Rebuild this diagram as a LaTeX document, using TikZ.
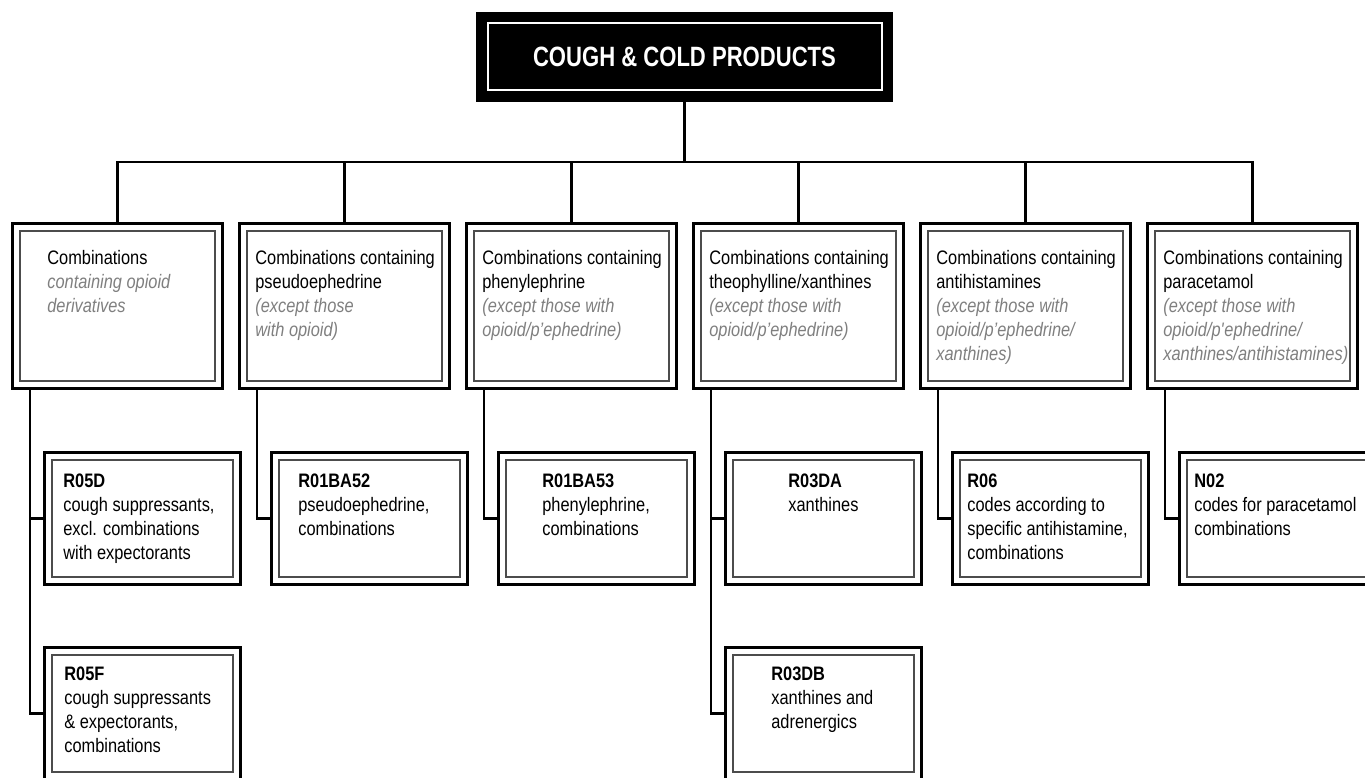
\documentclass[tikz,border=0pt]{standalone}
\usepackage{fontspec}
\setmainfont{Liberation Sans}[FakeStretch=0.84]
\newfontfamily\titlefont{Liberation Sans}[FakeStretch=0.79]
\usepackage{tikz}
\usepackage{color}
\definecolor{notegray}{HTML}{7F7F7F}
\newcommand{\greynote}[1]{{\color{notegray}\itshape #1}}
\tikzset{
	titlebox/.style={fill=black, text=white, outer sep=0pt, minimum width=8.34cm, minimum height=1.8cm, text height=0.4cm, text depth=0pt, font=\titlefont\bfseries\fontsize{15.9}{19}\selectfont},
	catbox/.style={draw, line width=0.06cm, outer sep=0pt, anchor=north west, minimum width=4.2cm, minimum height=3.3cm},
	codebox/.style={catbox, minimum width=3.92cm, minimum height=2.64cm},
	innerline/.style={draw=black!70, line width=0.032cm},
	boxtext/.style={anchor=north west, align=left, inner sep=0pt, font=\fontsize{11.1}{13.66}\selectfont},
	link/.style={line width=0.05cm}
}

\begin{document}
\begin{tikzpicture}
		\useasboundingbox (0,0) rectangle (27.3,-15.56);
		% Boite titre
		\node[titlebox] (title) at (13.69,-1.14) {COUGH \& COLD PRODUCTS};
		\draw[white, line width=0.04cm] ([shift={(0.23,-0.23)}]title.north west) rectangle ([shift={(-0.23,0.23)}]title.south east);
		\coordinate (bus) at (0,-3.24);
		% Categories
		\node[catbox] (c1) at (0.25,-4.47) {};
		\node[catbox] (c2) at (4.79,-4.47) {};
		\node[catbox] (c3) at (9.33,-4.47) {};
		\node[catbox] (c4) at (13.87,-4.47) {};
		\node[catbox] (c5) at (18.41,-4.47) {};
		\node[catbox] (c6) at (22.95,-4.47) {};
		\node[boxtext] (c1txt) at ([shift={(0.69,-0.525)}]c1.north west) {Combinations\\ \greynote{containing opioid}\\ \greynote{derivatives}};
		\node[boxtext] (c2txt) at ([shift={(0.31,-0.525)}]c2.north west) {Combinations containing\\ pseudoephedrine\\ \greynote{(except those}\\ \greynote{with opioid)}};
		\node[boxtext] (c3txt) at ([shift={(0.31,-0.525)}]c3.north west) {Combinations containing\\ phenylephrine\\ \greynote{(except those with}\\ \greynote{opioid/p’ephedrine)}};
		\node[boxtext] (c4txt) at ([shift={(0.31,-0.525)}]c4.north west) {Combinations containing\\ theophylline/xanthines\\ \greynote{(except those with}\\ \greynote{opioid/p’ephedrine)}};
		\node[boxtext] (c5txt) at ([shift={(0.31,-0.525)}]c5.north west) {Combinations containing\\ antihistamines\\ \greynote{(except those with}\\ \greynote{opioid/p’ephedrine/}\\ \greynote{xanthines)}};
		\node[boxtext] (c6txt) at ([shift={(0.31,-0.525)}]c6.north west) {Combinations containing\\ paracetamol\\ \greynote{(except those with}\\ \greynote{opioid/p\textquotesingle ephedrine/}\\ \greynote{xanthines/antihistamines)}};
		% Codes
		\node[codebox] (r05d) at (0.89,-9.05) {};
		\node[codebox] (r01ba52) at (5.43,-9.05) {};
		\node[codebox] (r01ba53) at (9.97,-9.05) {};
		\node[codebox] (r03da) at (14.51,-9.05) {};
		\node[codebox] (r06) at (19.05,-9.05) {};
		\node[codebox] (n02) at (23.59,-9.05) {};
		\node[codebox] (r05f) at (0.89,-12.95) {};
		\node[codebox] (r03db) at (14.51,-12.95) {};
		\node[boxtext] (r05dtxt) at ([shift={(0.37,-0.425)}]r05d.north west) {\textbf{R05D}\\ cough suppressants,\\ excl. combinations\\ with expectorants};
		\node[boxtext] (r01ba52txt) at ([shift={(0.53,-0.425)}]r01ba52.north west) {\textbf{R01BA52}\\ pseudoephedrine,\\ combinations};
		\node[boxtext] (r01ba53txt) at ([shift={(0.87,-0.425)}]r01ba53.north west) {\textbf{R01BA53}\\ phenylephrine,\\ combinations};
		\node[boxtext] (r03datxt) at ([shift={(1.25,-0.425)}]r03da.north west) {\textbf{R03DA}\\ xanthines};
		\node[boxtext] (r06txt) at ([shift={(0.29,-0.425)}]r06.north west) {\textbf{R06}\\ codes according to\\ specific antihistamine,\\ combinations};
		\node[boxtext] (n02txt) at ([shift={(0.29,-0.425)}]n02.north west) {\textbf{N02}\\ codes for paracetamol\\ combinations};
		\node[boxtext] (r05ftxt) at ([shift={(0.39,-0.385)}]r05f.north west) {\textbf{R05F}\\ cough suppressants\\ \& expectorants,\\ combinations};
		\node[boxtext] (r03dbtxt) at ([shift={(0.91,-0.385)}]r03db.north west) {\textbf{R03DB}\\ xanthines and\\ adrenergics};
		% Traits interieurs
		\foreach \n in {c1,c2,c3,c4,c5,c6,r05d,r01ba52,r01ba53,r03da,r06,n02,r05f,r03db}
			\draw[innerline] ([shift={(0.15,-0.15)}]\n.north west) rectangle ([shift={(-0.15,0.15)}]\n.south east);
		% Liaisons
		\draw[link] (title.south) -- (title.south |- bus);
		\draw[link] (c1.north) -- (c1.north |- bus) -- (c6.north |- bus) -- (c6.north);
		\foreach \n in {c2,c3,c4,c5}
			\draw[link] (\n.north |- bus) -- (\n.north);
		\draw[link] ([xshift=0.35cm]c1.south west) |- (r05d.west);
		\draw[link] ([xshift=0.35cm]c1.south west) |- (r05f.west);
		\draw[link] ([xshift=0.35cm]c2.south west) |- (r01ba52.west);
		\draw[link] ([xshift=0.35cm]c3.south west) |- (r01ba53.west);
		\draw[link] ([xshift=0.35cm]c4.south west) |- (r03da.west);
		\draw[link] ([xshift=0.35cm]c4.south west) |- (r03db.west);
		\draw[link] ([xshift=0.35cm]c5.south west) |- (r06.west);
		\draw[link] ([xshift=0.35cm]c6.south west) |- (n02.west);
\end{tikzpicture}
\end{document}
